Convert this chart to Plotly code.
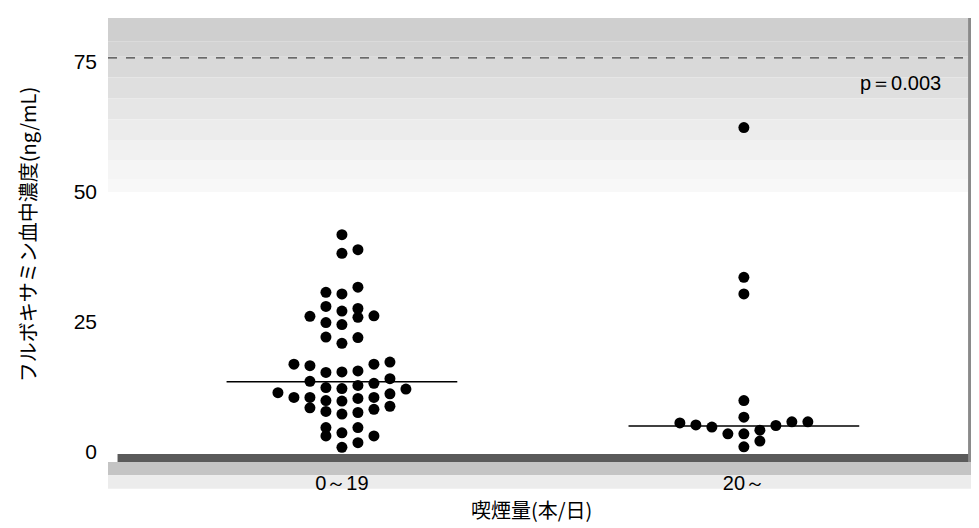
import plotly.graph_objects as go

# ---------------- data ----------------
categories = ["0～19", "20～"]

# group 1 (0～19 本/日): beeswarm column index and value (ng/mL)
g1_col = [0, 0, 1, 1, -1, 0, -1, 0, 1, -2, 1, 2, -1, 0, -1, 0, 1,
          -3, -2, -1, 0, 1, 2, 3, -2, -1, 0, 1, 2, 3, 4,
          -4, -3, -2, -1, 0, 1, 2, 3, -2, -1, 0, 1, 2, 3,
          -1, -1, 0, 1, 2, 1, 0]
g1_val = [41.8, 38.2, 38.9, 31.7, 30.7, 30.4, 28.0, 27.1, 27.6, 26.1, 25.9, 26.2, 24.9, 24.5, 22.1, 20.9, 22.0,
          16.9, 16.6, 15.3, 15.4, 15.6, 16.9, 17.3, 13.6, 12.4, 12.2, 12.8, 13.2, 14.1, 12.1,
          11.4, 10.5, 10.5, 9.9, 9.8, 10.3, 10.5, 11.2, 8.5, 7.8, 7.3, 7.6, 8.2, 8.8,
          4.7, 3.1, 3.7, 4.7, 3.1, 1.8, 0.9]

# group 2 (20～ 本/日)
g2_col = [0, 0, 0, 0, 0, -4, -3, -2, -1, 0, 1, 1, 0, 2, 3, 4]
g2_val = [62.4, 33.6, 30.4, 9.9, 6.7, 5.6, 5.2, 4.8, 3.5, 3.5, 4.2, 2.1, 1.0, 5.1, 5.8, 5.8]

medians = [13.5, 5.0]
p_text = "p＝0.003"
y_ticks = [0, 25, 50, 75]

# ---------------- styles ----------------
COL_STEP = 0.0398
HALF_LINE = 0.287
FONT_LATIN = "Liberation Sans, Arial, sans-serif"
FONT_CJK = "Noto Sans CJK JP, sans-serif"

fig = go.Figure()

groups = [(g1_col, g1_val), (g2_col, g2_val)]
for i, (cols, vals) in enumerate(groups):
    center = i + 1
    fig.add_trace(go.Scatter(
        x=[center + c * COL_STEP for c in cols], y=vals,
        mode="markers",
        marker=dict(size=11, color="black"),
        showlegend=False, hoverinfo="y"))
    fig.add_trace(go.Scatter(
        x=[center - HALF_LINE, center + HALF_LINE], y=[medians[i], medians[i]],
        mode="lines", line=dict(color="black", width=1.5),
        showlegend=False, hoverinfo="skip"))

# ---- scan-like background texture approximations ----
shapes = []
bands = [(83.5, 79, "#cfcfcf"), (79, 76, "#d3d3d3"), (76, 72, "#d9d9d9"), (72, 68, "#dfdfdf"),
         (68, 64, "#e6e6e6"), (64, 60, "#ececec"), (60, 56, "#f1f1f1"), (56, 52.5, "#f5f5f5"),
         (52.5, 50, "#f8f8f8")]
for top, bot, colr in bands:
    shapes.append(dict(type="rect", xref="paper", yref="y", x0=0, x1=0.992, y0=bot, y1=top,
                       fillcolor=colr, line=dict(width=0), layer="below"))
shapes.append(dict(type="line", xref="paper", yref="y", x0=0, x1=0.992, y0=75.8, y1=75.8,
                   line=dict(color="#444444", width=1.3, dash="dash"), layer="below"))
shapes.append(dict(type="rect", xref="paper", yref="paper", x0=0.011, x1=1.0, y0=0.0, y1=0.018,
                   fillcolor="#5a5a5a", line=dict(width=0), layer="below"))
shapes.append(dict(type="rect", xref="paper", yref="paper", x0=0.0, x1=1.0, y0=-0.03, y1=0.0,
                   fillcolor="#c4c4c4", line=dict(width=0), layer="below"))
shapes.append(dict(type="rect", xref="paper", yref="paper", x0=0.0, x1=1.0, y0=-0.06, y1=-0.03,
                   fillcolor="#ececec", line=dict(width=0), layer="below"))
shapes.append(dict(type="rect", xref="paper", yref="paper", x0=0.992, x1=1.005, y0=0.0, y1=1.0,
                   fillcolor="#8a8a8a", line=dict(width=0), layer="below"))

annotations = [
    dict(text=p_text, x=2.495, y=71, xref="x", yref="y", xanchor="right", yanchor="middle",
         showarrow=False, font=dict(family=FONT_LATIN, size=20, color="black")),
    dict(text="フルボキサミン血中濃度(ng/mL)", textangle=-90, x=-0.0934, y=0.511,
         xref="paper", yref="paper", xanchor="center", yanchor="middle", showarrow=False,
         font=dict(family=FONT_CJK, size=20, color="black")),
    dict(text="喫煙量(本/日)", x=0.489, y=-0.108, xref="paper", yref="paper",
         xanchor="center", yanchor="middle", showarrow=False,
         font=dict(family=FONT_CJK, size=20, color="black")),
]

# page body adds an 8px offset, so margins are shifted to compensate
fig.update_layout(
    width=979, height=528,
    margin=dict(l=100, r=12, t=10, b=74),
    paper_bgcolor="white", plot_bgcolor="white",
    shapes=shapes, annotations=annotations,
    xaxis=dict(range=[0.418, 2.575], tickmode="array", tickvals=[1, 2], ticktext=categories,
               showgrid=False, zeroline=False, showline=False, ticks="",
               ticklabelstandoff=7,
               tickfont=dict(family=FONT_LATIN, size=20, color="black")),
    yaxis=dict(range=[-1.92, 83.46], tickmode="array", tickvals=y_ticks,
               showgrid=False, zeroline=False, showline=False, ticks="",
               ticklabelstandoff=10,
               tickfont=dict(family=FONT_LATIN, size=21, color="black")),
)

fig.write_html("out.html")
